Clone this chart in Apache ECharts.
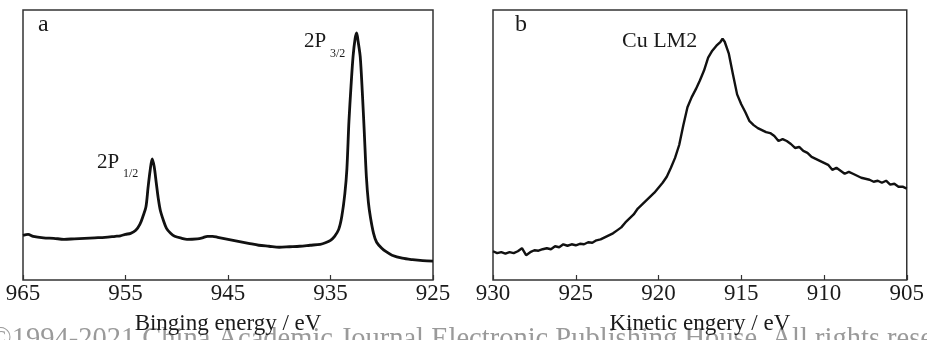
<!DOCTYPE html>
<html>
<head>
<meta charset="utf-8">
<script src="https://cdn.jsdelivr.net/npm/echarts@6/dist/echarts.min.js"></script>
<style>html,body{margin:0;padding:0;background:#fff}#c{width:927px;height:340px}</style>
</head>
<body>
<div id="c"></div>
<script>
// Panel a: Cu 2p XPS (binding energy, eV) vs intensity (arbitrary units)
const bindingEnergy = [965.0,964.5,964.0,963.0,962.0,961.0,960.0,959.0,958.0,957.0,956.0,955.5,955.0,954.5,954.0,953.6,953.3,953.0,952.8,952.6,952.4,952.2,952.0,951.8,951.6,951.3,951.0,950.6,950.2,949.5,949.0,948.0,947.5,947.0,946.5,946.0,945.0,944.0,943.0,942.0,941.0,940.0,939.0,938.0,937.0,936.0,935.5,935.0,934.6,934.2,933.9,933.6,933.4,933.2,933.0,932.8,932.6,932.45,932.3,932.1,931.9,931.7,931.5,931.3,931.1,930.8,930.5,930.0,929.5,929.0,928.0,927.0,926.0,925.0];
const xpsIntensity = [45,46,44,42.5,42,41,41.5,42,42.5,43,44,44.5,46,47,50,56,64,74,93,110,122,114,98,82,70,60,52,47,44,42,41,41.5,42.5,44,44,43,41,39,37,35,34,33,33.5,34,35,36,37.5,40,44,51,64,87,112,160,195,225,243,249,240,225,190,148,104,78,63,47,38,32,28,25,22,20.5,19.5,19];
const xpsTicks = [965,955,945,935,925];

// Panel b: Cu LMM Auger (kinetic energy, eV) vs intensity
const kineticEnergy = [930.00,929.75,929.50,929.25,929.00,928.75,928.50,928.25,928.00,927.75,927.50,927.25,927.00,926.75,926.50,926.25,926.00,925.75,925.50,925.25,925.00,924.75,924.50,924.25,924.00,923.75,923.50,923.25,923.00,922.75,922.50,922.25,922.00,921.75,921.50,921.25,921.00,920.75,920.50,920.25,920.00,919.75,919.50,919.25,919.00,918.75,918.50,918.25,918.00,917.75,917.50,917.25,917.00,916.75,916.50,916.25,916.13,916.00,915.75,915.50,915.25,915.00,914.75,914.50,914.25,914.00,913.75,913.50,913.25,913.00,912.75,912.50,912.25,912.00,911.75,911.50,911.25,911.00,910.75,910.50,910.25,910.00,909.75,909.50,909.25,909.00,908.75,908.50,908.25,908.00,907.75,907.50,907.25,907.00,906.75,906.50,906.25,906.00,905.75,905.50,905.25,905.00];
const augerIntensity = [29,27,28,26.5,28,27,29,32,25,28,30,29.5,31,32,31,34,33,36,34.5,36,35,36.5,36,38,37.5,40,41,43,45,47,50,53,58,62,66,72,76,80,84,88,93,98,104,113,123,136,156,174,184,192,201,211,224,231,236,240,243,240,228,207,187,177,169,160,156,153,151,149,148,145,140,142,140,137,133,134,130,128,124,122,120,118,116,111,113,110,107,109,107,105,103,102,101,99,100,98,100,96,97,94,94,92];
const augerTicks = [930,925,920,915,910,905];

const axisTitles = ['Binging energy / eV', 'Kinetic engery / eV'];
const panelLetters = ['a', 'b'];
const watermark = '\u00a91994-2021 China Academic Journal Electronic Publishing House. All rights reserved.';

const serif = '"Liberation Serif", "DejaVu Serif", serif';
const ink = '#1a1a1a';

function pairs(xs, ys) { return xs.map((x, i) => [x, ys[i]]); }

function xAxisCfg(idx, min, max, ticks, title) {
  return {
    gridIndex: idx, type: 'value', min: min, max: max, inverse: true,
    axisLine: { show: false },
    axisTick: { show: true, inside: true, length: 5, customValues: ticks, lineStyle: { color: '#333', width: 1.2 } },
    axisLabel: { show: true, customValues: ticks, margin: 2, color: ink, fontFamily: serif, fontSize: 23 },
    splitLine: { show: false },
    name: title, nameLocation: 'middle', nameGap: 32,
    nameTextStyle: { color: ink, fontFamily: serif, fontSize: 23 }
  };
}
function yAxisCfg(idx) {
  return {
    gridIndex: idx, type: 'value', min: 0, max: 272,
    axisLine: { show: false }, axisTick: { show: false }, axisLabel: { show: false }, splitLine: { show: false }
  };
}

const chart = echarts.init(document.getElementById('c'), null, { renderer: 'canvas' });
chart.setOption({
  animation: false,
  backgroundColor: '#fff',
  grid: [
    { left: 23, top: 10, width: 410, height: 272, show: true, borderColor: '#333', borderWidth: 1.5, backgroundColor: 'transparent' },
    { left: 493, top: 10, width: 415, height: 272, show: true, borderColor: '#333', borderWidth: 1.5, backgroundColor: 'transparent' }
  ],
  xAxis: [
    xAxisCfg(0, 925, 965, xpsTicks, axisTitles[0]),
    xAxisCfg(1, 905, 930, augerTicks, axisTitles[1])
  ],
  yAxis: [yAxisCfg(0), yAxisCfg(1)],
  series: [
    { type: 'line', xAxisIndex: 0, yAxisIndex: 0, data: pairs(bindingEnergy, xpsIntensity), showSymbol: false, smooth: 0.3,
      lineStyle: { color: '#111', width: 2.8 }, z: 3 },
    { type: 'line', xAxisIndex: 1, yAxisIndex: 1, data: pairs(kineticEnergy, augerIntensity), showSymbol: false, smooth: false,
      lineStyle: { color: '#111', width: 2.4 }, z: 3 }
  ],
  graphic: [
    { type: 'text', z: 0, left: -10, top: 325, style: { text: watermark, fill: '#9a9a9a', font: '28.5px ' + serif } },
    { type: 'text', z: 10, left: 38, top: 13, style: { text: panelLetters[0], fill: ink, font: '24px ' + serif } },
    { type: 'text', z: 10, left: 515, top: 13, style: { text: panelLetters[1], fill: ink, font: '24px ' + serif } },
    { type: 'text', z: 10, left: 304, top: 31, style: { text: '2P', fill: ink, font: '21px ' + serif } },
    { type: 'text', z: 10, left: 330, top: 48, style: { text: '3/2', fill: ink, font: '12px ' + serif } },
    { type: 'text', z: 10, left: 97, top: 152, style: { text: '2P', fill: ink, font: '21px ' + serif } },
    { type: 'text', z: 10, left: 123, top: 168, style: { text: '1/2', fill: ink, font: '12px ' + serif } },
    { type: 'text', z: 10, left: 622, top: 30, style: { text: 'Cu LM2', fill: ink, font: '22px ' + serif } }
  ]
});
</script>
</body>
</html>
